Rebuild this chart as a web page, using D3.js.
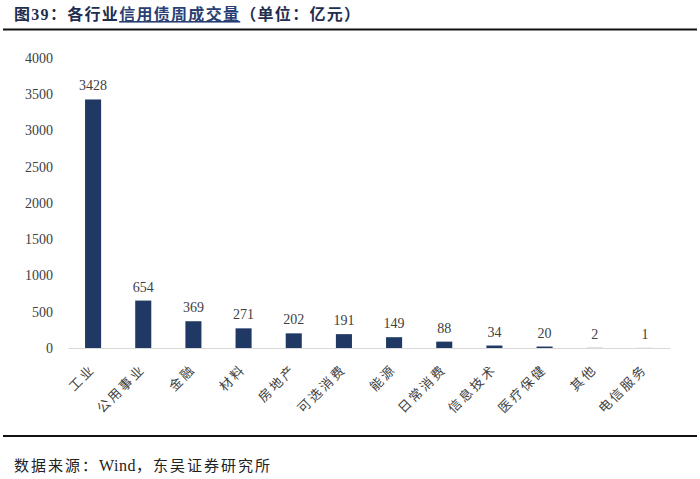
<!DOCTYPE html>
<html>
<head>
<meta charset="utf-8">
<script src="https://cdn.jsdelivr.net/npm/d3@7"></script>
<style>
  body { margin: 0; background: #fff; }
</style>
</head>
<body>
<div class="canvas"></div>
<script>
const categories = ['工业', '公用事业', '金融', '材料', '房地产', '可选消费', '能源', '日常消费', '信息技术', '医疗保健', '其他', '电信服务'];
const values = [3428, 654, 369, 271, 202, 191, 149, 88, 34, 20, 2, 1];
const yTicks = [0, 500, 1000, 1500, 2000, 2500, 3000, 3500, 4000];

const width = 700, height = 479;
const plot = { left: 68, right: 670, top: 58, bottom: 348 };

const svg = d3.select('.canvas').append('svg')
  .attr('width', width)
  .attr('height', height);

// title
const title = svg.append('text')
  .attr('x', 14)
  .attr('y', 20)
  .attr('font-family', 'Noto Sans CJK SC')
  .attr('font-weight', 'bold')
  .attr('font-size', 16)
  .attr('letter-spacing', 1.3)
  .attr('fill', '#1f2d4f');
title.append('tspan').text('图');
title.append('tspan').attr('font-family', 'Liberation Serif').text('39');
title.append('tspan').text('：各行业');
title.append('tspan').attr('text-decoration', 'underline').attr('fill', '#2a3f73').text('信用债周成交量');
title.append('tspan').text('（单位：亿元）');

svg.append('line')
  .attr('x1', 3).attr('x2', 697)
  .attr('y1', 29.5).attr('y2', 29.5)
  .attr('stroke', '#111').attr('stroke-width', 2);

svg.append('line')
  .attr('x1', 3).attr('x2', 697)
  .attr('y1', 436).attr('y2', 436)
  .attr('stroke', '#111').attr('stroke-width', 2);

const source = svg.append('text')
  .attr('x', 14)
  .attr('y', 471)
  .attr('font-family', 'Noto Sans CJK SC')
  .attr('font-size', 15)
  .attr('letter-spacing', 2)
  .attr('fill', '#222');
source.append('tspan').text('数据来源：');
source.append('tspan').attr('font-family', 'Liberation Serif').attr('font-size', 16).attr('letter-spacing', 0.5).text('Wind');
source.append('tspan').text('，东吴证券研究所');

const x = d3.scaleBand()
  .domain(categories)
  .range([plot.left, plot.right])
  .paddingInner(0.68)
  .paddingOuter(0.34);

const y = d3.scaleLinear()
  .domain([0, 4000])
  .range([plot.bottom, plot.top]);

// y axis labels
const yAxis = svg.append('g')
  .attr('transform', `translate(${plot.left - 15},0)`)
  .call(d3.axisLeft(y).tickValues(yTicks).tickFormat(d3.format('d')).tickSize(0).tickPadding(0));
yAxis.select('.domain').remove();
yAxis.selectAll('text')
  .attr('font-family', 'Liberation Serif')
  .attr('font-size', 14)
  .attr('fill', '#404040');

// bars
svg.append('g').selectAll('rect')
  .data(values)
  .join('rect')
  .attr('x', (d, i) => x(categories[i]))
  .attr('y', (d) => y(d))
  .attr('width', x.bandwidth())
  .attr('height', (d) => y(0) - y(d))
  .attr('fill', '#1f3864');

// value labels
svg.append('g').selectAll('text')
  .data(values)
  .join('text')
  .attr('x', (d, i) => x(categories[i]) + x.bandwidth() / 2)
  .attr('y', (d) => y(d) - 9)
  .attr('text-anchor', 'middle')
  .attr('font-family', 'Liberation Serif')
  .attr('font-size', 14)
  .attr('fill', '#404040')
  .text((d) => d);

// x axis
const xAxis = svg.append('g')
  .attr('transform', `translate(0,${plot.bottom})`)
  .call(d3.axisBottom(x).tickSize(0).tickPadding(0));
xAxis.select('.domain').attr('stroke', '#d9d9d9').attr('stroke-width', 1.2);
xAxis.selectAll('text')
  .attr('font-family', 'Noto Sans CJK SC')
  .attr('font-size', 13)
  .attr('letter-spacing', 2.5)
  .attr('fill', '#404040')
  .attr('text-anchor', 'end')
  .attr('dy', null)
  .attr('transform', 'translate(3,22) rotate(-45)');
</script>
</body>
</html>
